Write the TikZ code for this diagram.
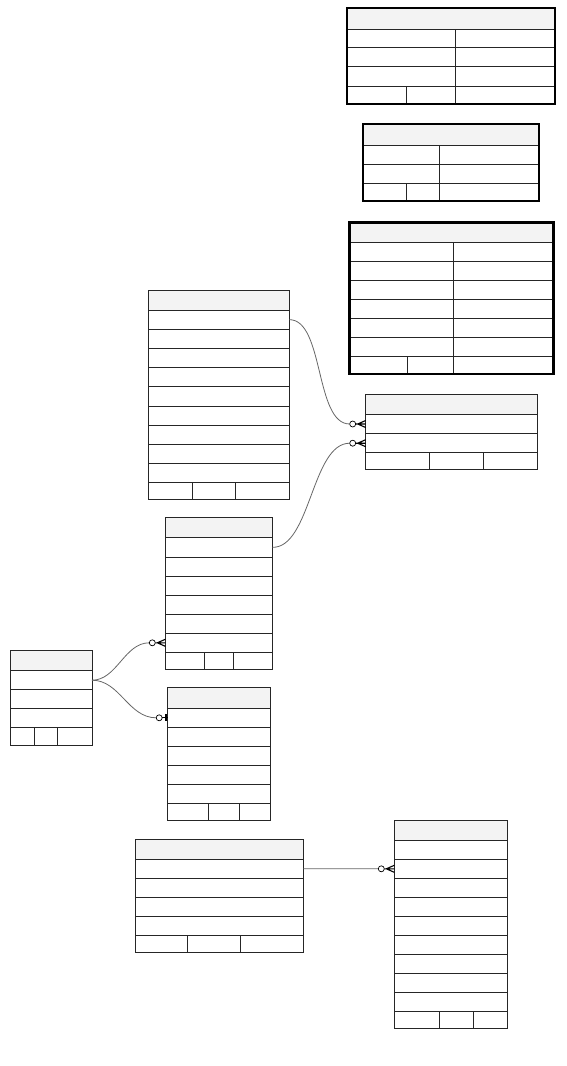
\documentclass[tikz,border=0pt]{standalone}
\usetikzlibrary{fit,calc}
\definecolor{hdr}{HTML}{F3F3F3}
\definecolor{edge}{HTML}{262626}
\definecolor{wirec}{HTML}{666666}
\tikzset{
  rowbox/.style={draw=edge, line width=0.9pt, inner sep=0pt, outer sep=0pt, rectangle},
  hdrbox/.style={rowbox, fill=hdr},
  frame/.style={draw=edge, line width=1pt, inner sep=0pt, outer sep=0pt, rectangle},
  framethick/.style={draw=black, line width=2.4pt, inner sep=0pt, outer sep=0pt, rectangle},
  rowline/.style={draw=edge, line width=0.9pt},
  wire/.style={draw=wirec, line width=0.8pt},
  foot/.style={draw=black, line width=1.1pt},
  zc/.style={draw=black, fill=white, line width=0.7pt},
  manyend/.pic={
    \draw[foot] (-8,0) -- (0,-3.5) (-8,0) -- (0,3.5) (-10,0) -- (0,0);
    \draw[zc] (-13,0) circle[radius=3pt];
  },
  oneend/.pic={
    \draw[foot] (-6,0) -- (0,0);
    \draw[draw=black, line width=2.2pt] (-1.5,-3.5) -- (-1.5,3.5);
    \draw[zc] (-8.5,0) circle[radius=3pt];
  },
}
% #1 name, #2 x1, #3 x2, #4 y pairs (header first), #5 bottom-row top, #6 bottom, #7 split xs
\newcommand\ertab[7]{%
  \foreach \ya/\yb [count=\i from 0] in {#4}{%
    \ifnum\i=0
      \node[hdrbox, fit={(#2,\ya) (#3,\yb)}] (#1-\i) {};
    \else
      \node[rowbox, fit={(#2,\ya) (#3,\yb)}] (#1-\i) {};
    \fi
  }%
  \foreach \s in {#7}{\draw[rowline] (\s,#5) -- (\s,#6);}%
}
\begin{document}
\begin{tikzpicture}[x=1pt,y=-1pt]
\useasboundingbox (0,0) rectangle (567,1066);

% T1
\ertab{t1}{347}{555}{8/29,29/47.7,47.7/66.7,66.7/86,86/104}{86}{104}{406.7}
\draw[rowline] (455.7,29) -- (455.7,104);
\node[framethick, fit={(347,8) (555,104)}] (t1) {};

% T2
\ertab{t2}{363}{539}{124/145,145/164.3,164.3/183.7,183.7/201}{183.7}{201}{406.7}
\draw[rowline] (439.7,145) -- (439.7,201);
\node[framethick, fit={(363,124) (539,201)}] (t2) {};

% T3
\ertab{t3}{349.3}{553.3}{222.3/242.3,242.3/261.7,261.7/280.7,280.7/299.7,299.7/318.7,318.7/337.7,337.7/356.7,356.7/374}{356.7}{374}{407}
\draw[rowline] (453.7,242.3) -- (453.7,374);
\node[framethick, fit={(349.3,222.3) (553.3,374)}] (t3) {};

% T4
\ertab{t4}{148.3}{289.3}{290/310,310/329.3,329.3/348.7,348.7/367.7,367.7/386.7,386.7/406,406/425,425/444,444/463,463/482,482/499}{482}{499}{192,235.7}
\node[frame, fit={(148.3,290) (289.3,499)}] (t4) {};

% T5
\ertab{t5}{365.7}{537}{394.3/414.3,414.3/433.7,433.7/452.7,452.7/469.3}{452.7}{469.3}{429.7,483}
\node[frame, fit={(365.7,394.3) (537,469.3)}] (t5) {};

% T6
\ertab{t6}{165.3}{272.7}{517.7/537.7,537.7/557,557/576,576/595,595/614.3,614.3/633.3,633.3/652.3,652.3/669}{652.3}{669}{204.7,233.7}
\node[frame, fit={(165.3,517.7) (272.7,669)}] (t6) {};

% T7
\ertab{t7}{10.3}{92}{650.3/670.7,670.7/689.7,689.7/708.7,708.7/727.7,727.7/745}{727.7}{745}{34,57.7}
\node[frame, fit={(10.3,650.3) (92,745)}] (t7) {};

% T8
\ertab{t8}{167.7}{270.3}{687.7/708.3,708.3/727.3,727.3/746.3,746.3/765.3,765.3/784.7,784.7/803.7,803.7/820.3}{803.7}{820.3}{208.7,239.7}
\node[frame, fit={(167.7,687.7) (270.3,820.3)}] (t8) {};

% T9
\ertab{t9}{135}{303.3}{839/859,859/878.3,878.3/897.3,897.3/916.7,916.7/935.7,935.7/952.3}{935.7}{952.3}{187.3,240.3}
\node[frame, fit={(135,839) (303.3,952.3)}] (t9) {};

% T10
\ertab{t10}{394.3}{507.7}{820/840,840/859.3,859.3/878.3,878.3/897.3,897.3/916.7,916.7/935.7,935.7/954.7,954.7/973.7,973.7/992.7,992.7/1011.7,1011.7/1028.3}{1011.7}{1028.3}{439,473.7}
\node[frame, fit={(394.3,820) (507.7,1028.3)}] (t10) {};

% connectors
\draw[wire] (t4-1.east) .. controls +(35,0) and +(-35,0) .. ($(t5-1.west)+(-16,0)$);
\pic at (t5-1.west) {manyend};

\draw[wire] (t6-1.east) .. controls +(38,0) and +(-38,0) .. ($(t5-2.west)+(-16,0)$);
\pic at (t5-2.west) {manyend};

\draw[wire] (t7-1.east) .. controls +(25,0) and +(-25,0) .. ($(t6-6.west)+(-16,0)$);
\pic at (t6-6.west) {manyend};

\draw[wire] (t7-1.east) .. controls +(28,0) and +(-28,0) .. ($(t8-1.west)+(-11.5,0)$);
\pic at (t8-1.west) {oneend};

\draw[wire] (t9-1.east) -- ($(t10-2.west)+(-16,0)$);
\pic at (t10-2.west) {manyend};
\end{tikzpicture}
\end{document}
